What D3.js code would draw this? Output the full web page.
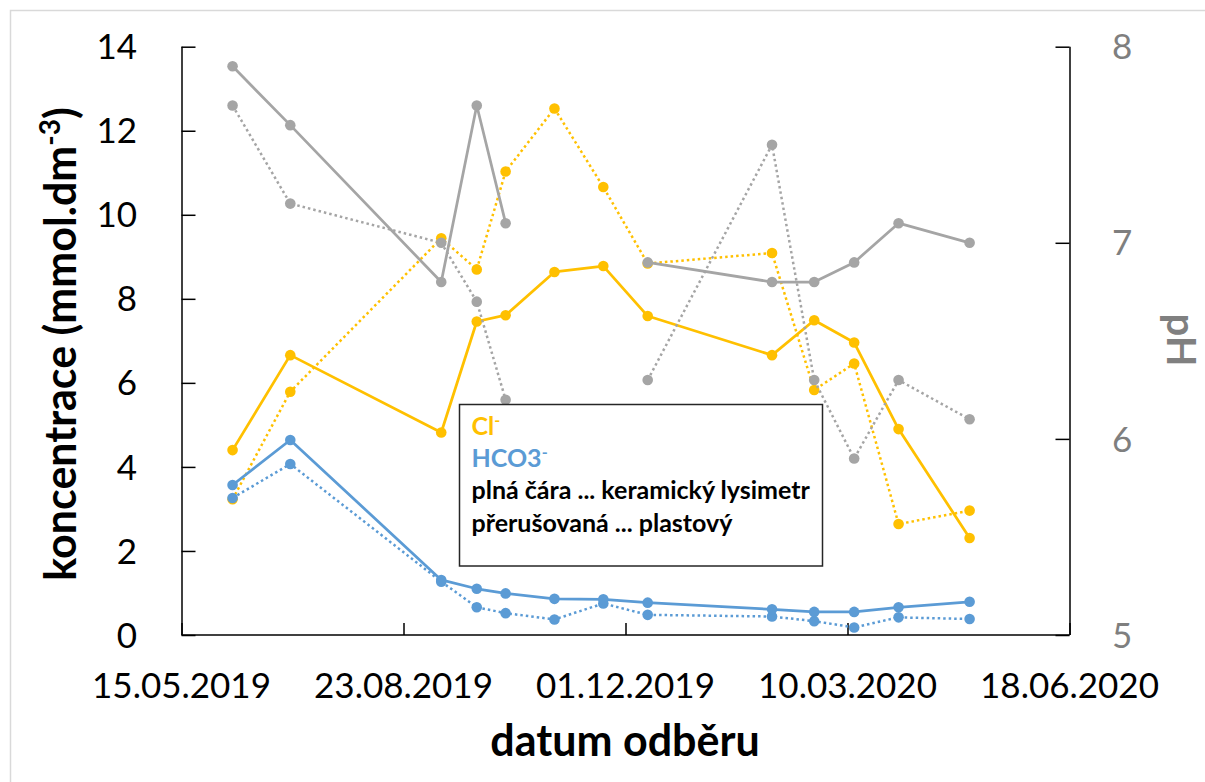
<!DOCTYPE html>
<html>
<head>
<meta charset="utf-8">
<script src="https://cdn.jsdelivr.net/npm/d3@7"></script>
<style>
  html, body { margin: 0; padding: 0; background: #fff; }
  svg { display: block; }
  text { font-family: Lato, "Open Sans", sans-serif; }
</style>
</head>
<body>
<svg id="chart" width="1205" height="782"></svg>
<script>
// ---- data ----
const dates = ["07.06.2019","03.07.2019","09.09.2019","25.09.2019","08.10.2019","30.10.2019","21.11.2019","11.12.2019","05.02.2020","24.02.2020","13.03.2020","02.04.2020","04.05.2020"];
const clCeramic   = [4.40, 6.66, 4.82, 7.46, 7.61, 8.64, 8.78, 7.59, 6.66, 7.49, 6.96, 4.90, 2.31];
const clPlastic   = [3.23, 5.79, 9.44, 8.70, 11.03, 12.53, 10.66, 8.84, 9.09, 5.83, 6.46, 2.64, 2.96];
const hco3Ceramic = [3.57, 4.64, 1.31, 1.10, 0.99, 0.86, 0.85, 0.77, 0.61, 0.55, 0.55, 0.66, 0.79];
const hco3Plastic = [3.26, 4.07, 1.27, 0.66, 0.52, 0.37, 0.75, 0.48, 0.44, 0.33, 0.18, 0.42, 0.38];
const phCeramic   = [7.90, 7.60, 6.80, 7.70, 7.10, null, null, 6.90, 6.80, 6.80, 6.90, 7.10, 7.00];
const phPlastic   = [7.70, 7.20, 7.00, 6.70, 6.20, null, null, 6.30, 7.50, 6.30, 5.90, 6.30, 6.10];
const xTickLabels = ["15.05.2019","23.08.2019","01.12.2019","10.03.2020","18.06.2020"];
const yLeftTicks  = [0, 2, 4, 6, 8, 10, 12, 14];
const yRightTicks = [5, 6, 7, 8];

// ---- setup ----
const parse = d3.timeParse("%d.%m.%Y");
const svg = d3.select("#chart");
const L = 181.5, R = 1069.5, T = 46.7, B = 635;

const x = d3.scaleTime().domain([parse(xTickLabels[0]), parse(xTickLabels[xTickLabels.length-1])]).range([L, R]);
const yL = d3.scaleLinear().domain([0, 14]).range([B, T]);
const yR = d3.scaleLinear().domain([5, 8]).range([B, T]);

const yellow = "#FFC000", blue = "#5B9BD5", gray = "#A5A5A5";

// outer chart frame
svg.append("rect").attr("x", 10.5).attr("y", 10.5).attr("width", 1400).attr("height", 1000)
  .attr("fill", "#fff").attr("stroke", "#d9d9d9").attr("stroke-width", 1.5);

// axes
const axisColor = "#000";
const gL = svg.append("g").attr("transform", `translate(${L},0)`)
  .call(d3.axisRight(yL).tickValues(yLeftTicks).tickSize(14).tickFormat(""));
const gR = svg.append("g").attr("transform", `translate(${R},0)`)
  .call(d3.axisLeft(yR).tickValues(yRightTicks).tickSize(14).tickFormat(""));
const gB = svg.append("g").attr("transform", `translate(0,${B})`)
  .call(d3.axisTop(x).tickValues(xTickLabels.map(parse)).tickSize(12).tickFormat(""));
[gL, gR, gB].forEach(g => {
  g.select(".domain").attr("stroke", axisColor).attr("stroke-width", 1.5);
  g.selectAll(".tick line").attr("stroke", axisColor).attr("stroke-width", 1.5);
});
gL.select(".domain").attr("d", `M0.5,${B}V${T}`);
gR.select(".domain").attr("d", `M0.5,${B}V${T}`);
gB.select(".domain").attr("d", `M${L},0H${R}`);

// tick labels
svg.append("g").selectAll("text").data(yLeftTicks).join("text")
  .attr("x", 137).attr("y", d => yL(d)).attr("dy", "0.36em")
  .attr("text-anchor", "end").attr("font-size", 35).attr("fill", "#000")
  .text(d => d);
svg.append("g").selectAll("text").data(yRightTicks).join("text")
  .attr("x", 1112).attr("y", d => yR(d)).attr("dy", "0.36em")
  .attr("text-anchor", "start").attr("font-size", 35).attr("fill", "#7f7f7f")
  .text(d => d);
svg.append("g").selectAll("text").data(xTickLabels).join("text")
  .attr("x", d => x(parse(d))).attr("y", 698)
  .attr("text-anchor", "middle").attr("font-size", 35).attr("fill", "#000")
  .text(d => d);

// axis titles
const lt = svg.append("text").attr("transform", "translate(76,344) rotate(-90)")
  .attr("text-anchor", "middle").attr("font-size", 43).attr("font-weight", "bold").attr("fill", "#000");
lt.append("tspan").text("koncentrace (mmol.dm");
lt.append("tspan").attr("font-size", 28).attr("dy", -16).text("-3");
lt.append("tspan").attr("dy", 16).text(")");

svg.append("text").attr("x", 625).attr("y", 756)
  .attr("text-anchor", "middle").attr("font-size", 43).attr("font-weight", "bold").attr("fill", "#000")
  .text("datum odběru");

svg.append("text").attr("transform", "translate(1167,340) rotate(90)")
  .attr("text-anchor", "middle").attr("font-size", 40).attr("font-weight", "bold").attr("fill", "#808080")
  .text("pH");

// series
const series = [
  { vals: clPlastic,   y: yL, color: yellow, dotted: true },
  { vals: clCeramic,   y: yL, color: yellow, dotted: false },
  { vals: hco3Plastic, y: yL, color: blue,   dotted: true },
  { vals: hco3Ceramic, y: yL, color: blue,   dotted: false },
  { vals: phPlastic,   y: yR, color: gray,   dotted: true },
  { vals: phCeramic,   y: yR, color: gray,   dotted: false },
];
const dateObjs = dates.map(parse);
series.forEach(s => {
  const pts = s.vals.map((v, i) => ({ d: dateObjs[i], v }));
  const line = d3.line().defined(p => p.v != null).x(p => x(p.d)).y(p => s.y(p.v));
  svg.append("path").datum(pts).attr("d", line)
    .attr("fill", "none").attr("stroke", s.color)
    .attr("stroke-width", s.dotted ? 2.5 : 2.75)
    .attr("stroke-dasharray", s.dotted ? "2.5 3" : null)
    .attr("stroke-linejoin", "round");
  svg.append("g").selectAll("circle").data(pts.filter(p => p.v != null)).join("circle")
    .attr("cx", p => x(p.d)).attr("cy", p => s.y(p.v)).attr("r", 5.3)
    .attr("fill", s.color);
});

// legend box
svg.append("rect").attr("x", 459.5).attr("y", 404.5).attr("width", 363).attr("height", 161.5)
  .attr("fill", "#fff").attr("stroke", "#262626").attr("stroke-width", 1.5);
const lg = svg.append("g").attr("font-size", 25).attr("font-weight", "bold");
const t1 = lg.append("text").attr("x", 471.5).attr("y", 435).attr("fill", yellow);
t1.append("tspan").text("Cl");
t1.append("tspan").attr("font-size", 16).attr("dy", -9).text("-");
const t2 = lg.append("text").attr("x", 471.5).attr("y", 467).attr("fill", blue);
t2.append("tspan").text("HCO3");
t2.append("tspan").attr("font-size", 16).attr("dy", -9).text("-");
lg.append("text").attr("x", 471.5).attr("y", 499).attr("fill", "#000").text("plná čára ... keramický lysimetr");
lg.append("text").attr("x", 471.5).attr("y", 532).attr("fill", "#000").text("přerušovaná ... plastový");
</script>
</body>
</html>
